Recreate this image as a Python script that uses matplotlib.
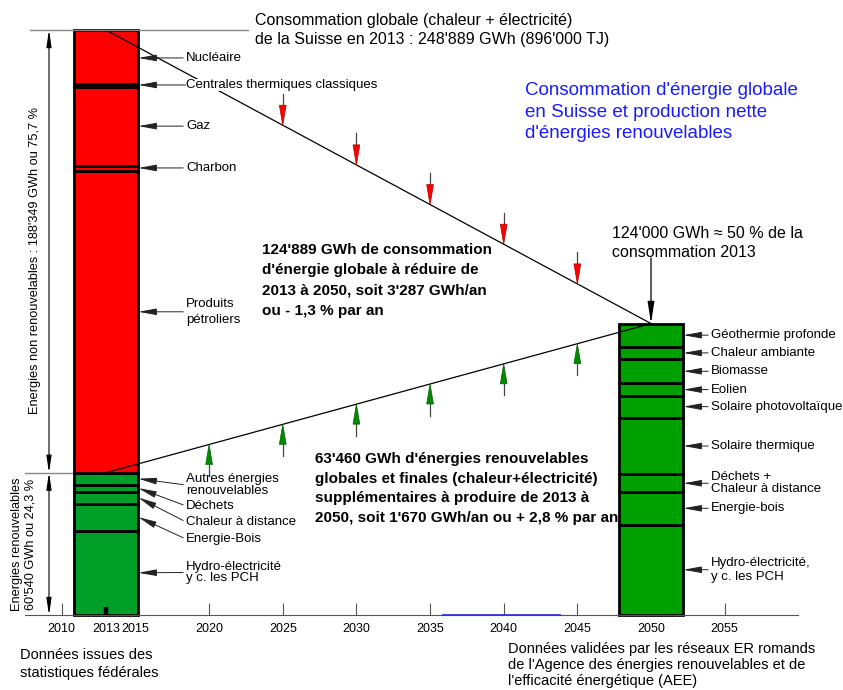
import numpy as np
import matplotlib.pyplot as plt

plt.rcParams['font.family'] = ['Liberation Sans', 'DejaVu Sans']

# --- data (GWh) ---------------------------------------------------------
total_2013 = 248889
target_2050 = 124000

# 2013, bottom to top
renew_2013 = ['Hydro-électricité\ny c. les PCH', 'Energie-Bois', 'Chaleur à distance',
              'Déchets', 'Autres énergies\nrenouvelables']
renew_2013_gwh = [35900, 11500, 5100, 2950, 5090]          # = 60'540
fossil_2013 = ['Produits\npétroliers', 'Charbon', 'Gaz',
               'Centrales thermiques classiques', 'Nucléaire']
fossil_2013_gwh = [128400, 2000, 33500, 1650, 22799]       # = 188'349

# 2050, bottom to top
renew_2050 = ['Hydro-électricité,\ny c. les PCH', 'Energie-bois', 'Déchets +\nChaleur à distance',
              'Solaire thermique', 'Solaire photovoltaïque', 'Eolien', 'Biomasse',
              'Chaleur ambiante', 'Géothermie profonde']
renew_2050_gwh = [38500, 13800, 7500, 24200, 9300, 5200, 10400, 5200, 9900]  # = 124'000

bar_years = [2013, 2050]
down_years = [2025, 2030, 2035, 2040, 2045]
up_years = [2020, 2025, 2030, 2035, 2040, 2045]
tick_years = [2010, 2013, 2015, 2020, 2025, 2030, 2035, 2040, 2045, 2050, 2055]

# label placement (GWh) for the 2013 bar
fossil_label_y = [129000, 190200, 208000, 225500, 237000]
renew_label_y = [18100, 32300, 39600, 46400, 55300]

RED = '#ff0000'
GREEN = '#00a000'
GREEN_13 = '#00a028'
BAR_W = 4.4

renew_total = sum(renew_2013_gwh)


def upper(yr):
    return np.interp(yr, bar_years, [total_2013, target_2050])


def lower(yr):
    return np.interp(yr, bar_years, [renew_total, target_2050])


fig = plt.figure(figsize=(8.43, 6.9), dpi=100)
ax = fig.add_axes([0, 0, 1, 1])
ax.set_xlim(2005.804, 2063.034)
ax.set_ylim(-31909, 261653)

# --- stacked bars ----------------------------------------------------------
vals13 = renew_2013_gwh + fossil_2013_gwh
cols13 = [GREEN_13] * len(renew_2013_gwh) + [RED] * len(fossil_2013_gwh)
bot13 = np.concatenate([[0], np.cumsum(vals13)[:-1]])
ax.bar([bar_years[0]] * len(vals13), vals13, BAR_W, bottom=bot13, color=cols13,
       edgecolor='black', linewidth=2)

bot50 = np.concatenate([[0], np.cumsum(renew_2050_gwh)[:-1]])
ax.bar([bar_years[1]] * len(renew_2050_gwh), renew_2050_gwh, BAR_W, bottom=bot50,
       color=GREEN, edgecolor='black', linewidth=2)

# --- trend lines and arrows ------------------------------------------------
ax.plot(bar_years, [total_2013, target_2050], color='black', lw=0.9, zorder=3)
ax.plot(bar_years, [renew_total, target_2050], color='black', lw=0.9, zorder=3)

ARROW_LEN, HEAD_LEN, HEAD_HALF = 13400, 8500, 0.23
for yr in down_years:
    v = upper(yr)
    ax.plot([yr, yr], [v + ARROW_LEN, v + HEAD_LEN], color='#444444', lw=0.9, zorder=3)
    ax.fill([yr - HEAD_HALF, yr + HEAD_HALF, yr], [v + HEAD_LEN, v + HEAD_LEN, v],
            fc=RED, ec='#b00000', lw=0.5, zorder=4)
for yr in up_years:
    v = lower(yr)
    ax.plot([yr, yr], [v - ARROW_LEN, v - HEAD_LEN], color='#444444', lw=0.9, zorder=3)
    ax.fill([yr - HEAD_HALF, yr + HEAD_HALF, yr], [v - HEAD_LEN, v - HEAD_LEN, v],
            fc='#008a00', ec='#006000', lw=0.5, zorder=4)

ax.annotate('', xy=(bar_years[1], target_2050), xytext=(bar_years[1], 151900),
            arrowprops=dict(arrowstyle='-|>,head_length=1.3,head_width=0.2', mutation_scale=10,
                            color='black', lw=0.9, shrinkA=0, shrinkB=0), zorder=5)

# --- dimension arrows on the left -----------------------------------------
x_dim = 2009.13
dim = dict(arrowstyle='<|-|>,head_length=1.0,head_width=0.15', mutation_scale=10,
           color='black', lw=0.8, shrinkA=0, shrinkB=0)
ax.annotate('', xy=(x_dim, total_2013), xytext=(x_dim, renew_total), arrowprops=dim)
ax.annotate('', xy=(x_dim, renew_total), xytext=(x_dim, 0), arrowprops=dim)
ax.plot([2007.84, 2022.64], [total_2013, total_2013], color='#888888', lw=1, zorder=3)
ax.plot([2007.5, bar_years[0]], [renew_total, renew_total], color='#888888', lw=1, zorder=0.5)

ax.text(2008.18, 151000, "Energies non renouvelables : 188'349 GWh ou 75,7 %",
        rotation=90, ha='center', va='center', fontsize=9.2)
ax.text(2007.4, 30200, "Energies renouvelables\n60'540 GWh ou 24,3 %",
        rotation=90, ha='center', va='center', fontsize=9.2, linespacing=1.2)

# --- segment labels ------------------------------------------------------------
lead = dict(arrowstyle='-|>,head_length=1.1,head_width=0.2', mutation_scale=10,
            color='#222222', lw=0.7, shrinkA=0, shrinkB=0, relpos=(0, 0.5))
x13_edge = bar_years[0] + BAR_W / 2
x50_edge = bar_years[1] + BAR_W / 2

for name, ly in zip(fossil_2013, fossil_label_y):
    box = dict(fc='white', ec='none', pad=0.3) if name.startswith('Centrales') else None
    ax.annotate(name, xy=(x13_edge, ly), xytext=(2018.43, ly), ha='left', va='center',
                fontsize=9.5, arrowprops=lead, bbox=box, zorder=5,
                linespacing=1.45 if '\n' in name else 1.2)

mid13 = bot13[:len(renew_2013_gwh)] + np.array(renew_2013_gwh) / 2
for name, ym, ly in zip(renew_2013, mid13, renew_label_y):
    ax.annotate(name, xy=(x13_edge, ym), xytext=(2018.43, ly), ha='left', va='center',
                fontsize=9.5, arrowprops=lead, zorder=5, linespacing=0.95)

mid50 = bot50 + np.array(renew_2050_gwh) / 2
for name, ym in zip(renew_2050, mid50):
    ax.annotate(name, xy=(x50_edge, ym), xytext=(2054.07, ym), ha='left', va='center',
                fontsize=9.5, arrowprops=lead, zorder=5,
                linespacing=1.25 if name.startswith('Hydro') else 1.05)

# --- texts -------------------------------------------------------------------
ax.text(2023.12, total_2013,
        "Consommation globale (chaleur + électricité)\nde la Suisse en 2013 : 248'889 GWh (896'000 TJ)",
        ha='left', va='center', fontsize=11.5, linespacing=1.33)
ax.text(2041.45, 214000,
        "Consommation d'énergie globale\nen Suisse et production nette\nd'énergies renouvelables",
        ha='left', va='center', fontsize=13.5, color='#1a1aff', linespacing=1.38)
ax.text(2023.59, 142300,
        "124'889 GWh de consommation\nd'énergie globale à réduire de\n"
        "2013 à 2050, soit 3'287 GWh/an\nou - 1,3 % par an",
        ha='left', va='center', fontsize=11, fontweight='bold', linespacing=1.57)
ax.text(2027.19, 53800,
        "63'460 GWh d'énergies renouvelables\nglobales et finales (chaleur+électricité)\n"
        "supplémentaires à produire de 2013 à\n2050, soit 1'670 GWh/an ou + 2,8 % par an",
        ha='left', va='center', fontsize=11, fontweight='bold', linespacing=1.49)
ax.text(2047.35, 158300, "124'000 GWh ≈ 50 % de la\nconsommation 2013",
        ha='left', va='center', fontsize=11.5, linespacing=1.35)
ax.text(2007.16, -20850, "Données issues des\nstatistiques fédérales",
        ha='left', va='center', fontsize=10.5, linespacing=1.32)
ax.text(2040.29, -21300,
        "Données validées par les réseaux ER romands\nde l'Agence des énergies renouvelables et de\n"
        "l'efficacité énergétique (AEE)",
        ha='left', va='center', fontsize=10.5, linespacing=1.2)

# --- time axis -----------------------------------------------------------------
for side in ['top', 'right', 'left']:
    ax.spines[side].set_visible(False)
ax.spines['bottom'].set_position(('data', 0))
ax.spines['bottom'].set_bounds(2007.5, 2060.0)
ax.spines['bottom'].set_color('#555555')
ax.set_yticks([])
ax.set_xticks(tick_years, [str(y) for y in tick_years])
ax.tick_params(axis='x', direction='in', length=8.6, width=0.8, color='#555555',
               labelsize=9, pad=6)
ticks = ax.xaxis.get_major_ticks()
for t, yr in zip(ticks, tick_years):
    if yr in (2015, 2050):
        t.tick1line.set_visible(False)
    if yr == 2013:
        t.tick1line.set_markeredgecolor('black')
        t.tick1line.set_markersize(6)
        t.tick1line.set_markeredgewidth(3.2)
ax.hlines(0, 2035.8, 2043.9, color='#3333dd', lw=1.3, zorder=5)

fig.savefig('out.png', dpi=100)
